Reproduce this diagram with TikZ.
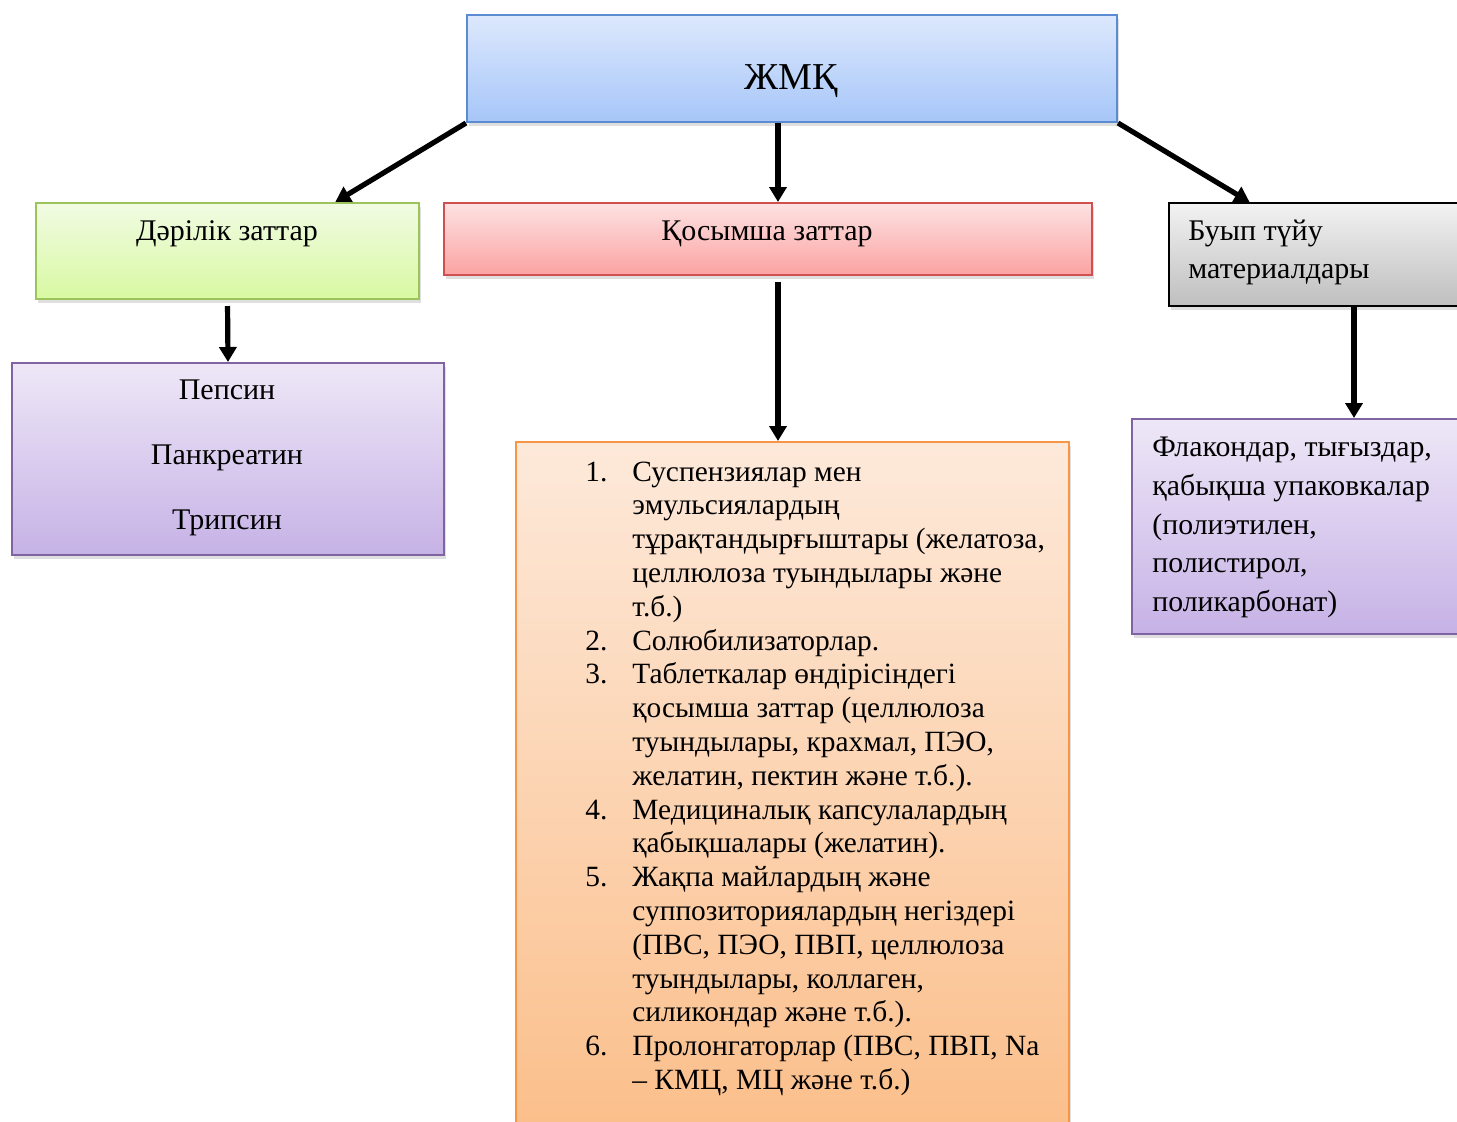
\documentclass[tikz,border=0pt]{standalone}
\usepackage{fontspec}
\setmainfont{Liberation Serif}
\usetikzlibrary{arrows.meta,shadows,calc}

\definecolor{blueTop}{HTML}{DDE8FD}
\definecolor{blueBot}{HTML}{A6C6F8}
\definecolor{blueLine}{HTML}{5B8BD0}
\definecolor{greenTop}{HTML}{F1FBE3}
\definecolor{greenBot}{HTML}{D8F9A2}
\definecolor{greenLine}{HTML}{9BC45A}
\definecolor{redTop}{HTML}{FDE2E2}
\definecolor{redBot}{HTML}{FBA3A2}
\definecolor{redLine}{HTML}{D05050}
\definecolor{greyTop}{HTML}{F2F2F2}
\definecolor{greyBot}{HTML}{BFBFBF}
\definecolor{purpTop}{HTML}{EEE7F7}
\definecolor{purpBot}{HTML}{C6B2E6}
\definecolor{purpLine}{HTML}{8064A2}
\definecolor{orTop}{HTML}{FDE9DA}
\definecolor{orBot}{HTML}{FBBE89}
\definecolor{orLine}{HTML}{F79646}

\newcommand\itemno[1]{\makebox[23.5pt][l]{#1}}
\newcommand\itemgap{\hspace*{23.5pt}}

\begin{document}
\begin{tikzpicture}[x=0.5pt,y=-0.5pt,
  box/.style={draw,line width=1pt,anchor=north west,inner sep=0pt,
    drop shadow={opacity=0.25,shadow xshift=1pt,shadow yshift=-2pt}},
  txt/.style={inner sep=0pt,font=\fontsize{15}{17}\selectfont},
  arr/.style={line width=2.6pt,-{Triangle[length=7.5pt,width=8.5pt]}}]
\fill[white] (0,0) rectangle (1457,1121);
\useasboundingbox (0,0) rectangle (1457,1121);

% boxes
\node[box,draw=blueLine,top color=blueTop,bottom color=blueBot,
  minimum width=325pt,minimum height=53.5pt] (zmk) at (466,14) {};
\node[box,draw=greenLine,top color=greenTop,bottom color=greenBot,
  minimum width=191.5pt,minimum height=48pt] (drug) at (35,202) {};
\node[box,draw=redLine,top color=redTop,bottom color=redBot,
  minimum width=324pt,minimum height=36pt] (aux) at (443,202) {};
\node[box,draw=black,top color=greyTop,bottom color=greyBot,
  minimum width=150pt,minimum height=51.5pt] (pack) at (1168,202) {};
\node[box,draw=purpLine,top color=purpTop,bottom color=purpBot,
  minimum width=216pt,minimum height=96pt] (enz) at (11,362) {};
\node[box,draw=orLine,top color=orTop,bottom color=orBot,
  minimum width=276.5pt,minimum height=350pt] (list) at (515,441) {};
\node[box,draw=purpLine,top color=purpTop,bottom color=purpBot,
  minimum width=170pt,minimum height=107.5pt] (mat) at (1131,418) {};

% texts
\node[txt,anchor=base,font=\fontsize{19}{22}\selectfont] (zmklabel) at (791,89) {ЖМҚ};
\node[txt,anchor=base] (druglabel) at (227,240) {Дәрілік заттар};
\node[txt,anchor=base] (auxlabel) at (767,240) {Қосымша заттар};
\node[txt,anchor=north west,align=left,font=\fontsize{15}{19}\selectfont]
  (packlabel) at (1188,213) {\strut Буып түйу\\материалдары};
\node[txt,anchor=north,align=center,font=\fontsize{15}{32.5}\selectfont]
  (enzlabel) at (227,354) {\strut Пепсин\\Панкреатин\\Трипсин};
\node[txt,anchor=north west,align=left,font=\fontsize{14.9}{19.4}\selectfont]
  (matlabel) at (1152,429) {\strut Флакондар, тығыздар,\\қабықша упаковкалар\\(полиэтилен,\\полистирол,\\поликарбонат)};
\node[txt,anchor=north west,align=left,font=\fontsize{14.7}{16.9}\selectfont]
  (items) at (585,457) {\strut\itemno{1.}Суспензиялар мен\\
  \itemgap эмульсиялардың\\
  \itemgap тұрақтандырғыштары (желатоза,\\
  \itemgap целлюлоза туындылары және\\
  \itemgap т.б.)\\
  \itemno{2.}Солюбилизаторлар.\\
  \itemno{3.}Таблеткалар өндірісіндегі\\
  \itemgap қосымша заттар (целлюлоза\\
  \itemgap туындылары, крахмал, ПЭО,\\
  \itemgap желатин, пектин және т.б.).\\
  \itemno{4.}Медициналық капсулалардың\\
  \itemgap қабықшалары (желатин).\\
  \itemno{5.}Жақпа майлардың және\\
  \itemgap суппозиториялардың негіздері\\
  \itemgap (ПВС, ПЭО, ПВП, целлюлоза\\
  \itemgap туындылары, коллаген,\\
  \itemgap силикондар және т.б.).\\
  \itemno{6.}Пролонгаторлар (ПВС, ПВП, Na\\
  \itemgap – КМЦ, МЦ және т.б.)};

% arrows
\coordinate (midx) at (778,0);
\coordinate (rightx) at (1354,0);
\draw[arr] (zmk.south west) -- ($(drug.north west)!0.78!(drug.north east)$);
\draw[arr] (zmk.south -| midx) -- (aux.north -| midx);
\draw[arr] (zmk.south east) -- ($(pack.north west)!0.27!(pack.north east)$);
\draw[arr,shorten <=3pt] (drug.south) -- (enz.north);
\draw[arr,shorten <=3pt] (aux.south -| midx) -- (list.north -| midx);
\draw[arr] (pack.south -| rightx) -- (mat.north -| rightx);
\end{tikzpicture}
\end{document}
